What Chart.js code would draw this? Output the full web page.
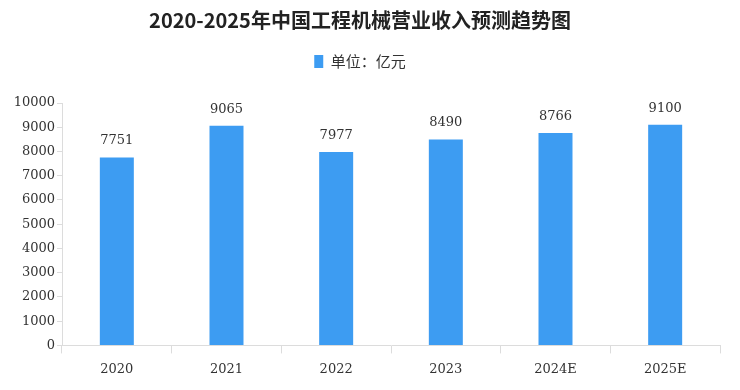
<!DOCTYPE html>
<html><head><meta charset="utf-8">
<script src="https://cdn.jsdelivr.net/npm/chart.js@4/dist/chart.umd.min.js"></script>
<style>html,body{margin:0;padding:0;background:#fff}#wrap{width:740px;height:390px}</style>
</head><body><div id="wrap"><canvas id="c"></canvas></div>
<script>
const categories = ["2020","2021","2022","2023","2024E","2025E"];
const revenue = [7751,9065,7977,8490,8766,9100];
const yTicks = [0,1000,2000,3000,4000,5000,6000,7000,8000,9000,10000];
const seriesName = "单位：亿元";
const titleText = "2020-2025年中国工程机械营业收入预测趋势图";

const numFont = '"DejaVu Serif", serif';

const valueLabels = {
  id:'valueLabels',
  afterDatasetsDraw(chart){
    const ctx = chart.ctx;
    const meta = chart.getDatasetMeta(0);
    ctx.save();
    ctx.font = '13px ' + numFont;
    ctx.fillStyle = '#333';
    ctx.textAlign = 'center';
    ctx.textBaseline = 'bottom';
    meta.data.forEach((bar,i)=>{
      ctx.fillText(String(chart.data.datasets[0].data[i]), bar.x, bar.y - 10);
    });
    ctx.restore();
  }
};

const legendSpace = {
  id:'legendSpace',
  beforeInit(chart){
    const fit = chart.legend.fit;
    chart.legend.fit = function(){ fit.call(this); this.height += 24; };
  }
};

new Chart(document.getElementById('c'), {
  type:'bar',
  data:{labels:categories, datasets:[{label:seriesName, data:revenue, backgroundColor:'#3d9cf2', barPercentage:0.31, categoryPercentage:1.0}]},
  options:{
    responsive:true, maintainAspectRatio:false, animation:false,
    layout:{padding:{left:0,right:20,top:4,bottom:5}},
    plugins:{
      title:{display:true,text:titleText,color:'#222',font:{family:'"Noto Sans CJK SC"',size:20,weight:'bold'},padding:{top:4,bottom:16}},
      legend:{display:true,labels:{boxWidth:9,boxHeight:13,color:'#333',font:{family:'"Noto Sans CJK SC"',size:15},padding:6}},
      tooltip:{enabled:false}
    },
    scales:{
      x:{grid:{display:true,drawOnChartArea:false,offset:true,tickLength:8,color:'#dcdcdc'},border:{color:'#dcdcdc'},
         ticks:{color:'#333',font:{family:numFont,size:13},padding:8}},
      y:{min:0,max:10000,afterBuildTicks(ax){ax.ticks=yTicks.map(v=>({value:v}));},
         grid:{display:true,drawOnChartArea:false,tickLength:5,color:'#dcdcdc'},border:{color:'#dcdcdc'},
         ticks:{color:'#333',font:{family:numFont,size:13},padding:2,callback:v=>String(v)},
         afterFit(s){s.width=62;}}
    }
  },
  plugins:[valueLabels, legendSpace]
});
</script></body></html>
